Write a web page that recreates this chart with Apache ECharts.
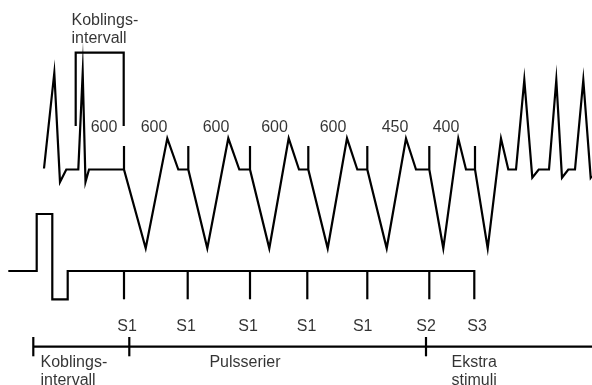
<!DOCTYPE html>
<html>
<head>
<meta charset="utf-8">
<script src="https://cdn.jsdelivr.net/npm/echarts@6/dist/echarts.min.js"></script>
<style>html,body{margin:0;padding:0;background:#fff}#c{width:592px;height:385px}</style>
</head>
<body>
<div id="c"></div>
<script>
// Diagram coordinates (time units along x, amplitude units down along y)
var ecgTrace = [
  [44,168.5],[54.3,73],[60,182],[66.3,169.5],[78.3,169.5],[82.7,73],[85.5,182],[89,169.5],
  [124,169.5],[124,146],[124,169.5],[145.7,248.3],[167.3,138.3],[178.3,169.5],
  [188.3,169.5],[188.3,146],[188.3,169.5],[207.3,248.3],[228.3,138.3],[239.3,169.5],
  [250,169.5],[250,146],[250,169.5],[269.3,248.3],[288.7,138.3],[299,169.5],
  [308.3,169.5],[308.3,146],[308.3,169.5],[327.7,248.3],[347,138.3],[357.3,169.5],
  [367.3,169.5],[367.3,146],[367.3,169.5],[386.7,248.3],[406,138.5],[416,169.5],
  [429.3,169.5],[429.3,146],[429.3,169.5],[443.3,248.3],[458.3,138.5],[466,169.5],
  [475,169.5],[475,146],[475,169.5],[487.7,248.3],[501,138.5],[508.3,169.5],
  [516,169.5],[524.3,80],[532.3,177.7],[538.7,169.5],[549,169.5],[556.3,80],[562,177.7],
  [568.3,169.5],[575,169.5],[583.3,80],[590.7,177.7],[592,176]
];
var stimTrace = [
  [8.3,271],[36.7,271],[36.7,214],[52.3,214],[52.3,299.3],[67.7,299.3],[67.7,271],
  [474.3,271],[474.3,299.3]
];
var stimTicksX = [124, 187.7, 250, 307.3, 367.3, 429.3];
var stimTickTop = 271, stimTickBottom = 299.3;

var bracket = [[75.7,126],[75.7,52.7],[123.7,52.7],[123.7,126]];

var phaseAxisY = 346.7;
var phaseAxisRange = [33.3, 592];
var phaseTicksX = [33.3, 129.3, 426];
var phaseTickTop = 337, phaseTickBottom = 356.3;

var intervalLabels = ['600','600','600','600','600','450','400'];
var intervalLabelX = [104, 154, 216, 274.5, 333, 395, 446];
var intervalLabelY = 127.5;

var stimLabels = ['S1','S1','S1','S1','S1','S2','S3'];
var stimLabelX = [127, 186, 248, 306.5, 362.7, 426, 477];
var stimLabelY = 326.5;

var phaseLabels = ['Koblings-\nintervall','Pulsserier','Ekstra\nstimuli'];
var phaseLabelX = [40.5, 245, 451.5];
var phaseLabelAlign = ['left','center','left'];
var phaseLabelY = 353.5;

var topLabel = 'Koblings-\nintervall';
var topLabelPos = [71.5, 12];

var lineSegs = [];
lineSegs.push({coords: ecgTrace});
lineSegs.push({coords: stimTrace});
stimTicksX.forEach(function(x){ lineSegs.push({coords: [[x,stimTickTop],[x,stimTickBottom]]}); });
lineSegs.push({coords: bracket});
lineSegs.push({coords: [[phaseAxisRange[0],phaseAxisY],[phaseAxisRange[1],phaseAxisY]]});
phaseTicksX.forEach(function(x){ lineSegs.push({coords: [[x,phaseTickTop],[x,phaseTickBottom]]}); });

var font = {fontFamily: '"Liberation Sans", Arial, sans-serif', fontSize: 16, color: '#000'};

function textSeries(items){
  return {
    type: 'scatter', symbolSize: 0, silent: true, z: 5,
    data: items.map(function(it){
      return {value: [it.x, it.y], name: it.t,
        label: {show: true, position: 'inside', formatter: it.t, align: it.align, verticalAlign: it.va,
          lineHeight: it.lh || 18, fontFamily: font.fontFamily, fontSize: font.fontSize, color: font.color}};
    })
  };
}

var textItems = [];
intervalLabels.forEach(function(t,i){ textItems.push({t:t, x:intervalLabelX[i], y:intervalLabelY, align:'center', va:'middle'}); });
stimLabels.forEach(function(t,i){ textItems.push({t:t, x:stimLabelX[i], y:stimLabelY, align:'center', va:'middle'}); });
phaseLabels.forEach(function(t,i){ textItems.push({t:t, x:phaseLabelX[i], y:phaseLabelY, align:phaseLabelAlign[i], va:'top'}); });
textItems.push({t: topLabel, x: topLabelPos[0], y: topLabelPos[1], align:'left', va:'top'});

var chart = echarts.init(document.getElementById('c'), null, {renderer: 'canvas'});
chart.setOption({
  animation: false,
  backgroundColor: '#fff',
  grid: {left: 0, right: 0, top: 0, bottom: 0},
  xAxis: {type: 'value', min: 0, max: 592, show: false},
  yAxis: {type: 'value', min: 0, max: 385, inverse: true, show: false},
  series: [
    {
      type: 'lines', coordinateSystem: 'cartesian2d', polyline: true, silent: true,
      lineStyle: {color: '#000', width: 2.2, opacity: 1, join: 'miter', miterLimit: 30},
      data: lineSegs
    },
    textSeries(textItems)
  ]
});
</script>
</body>
</html>
